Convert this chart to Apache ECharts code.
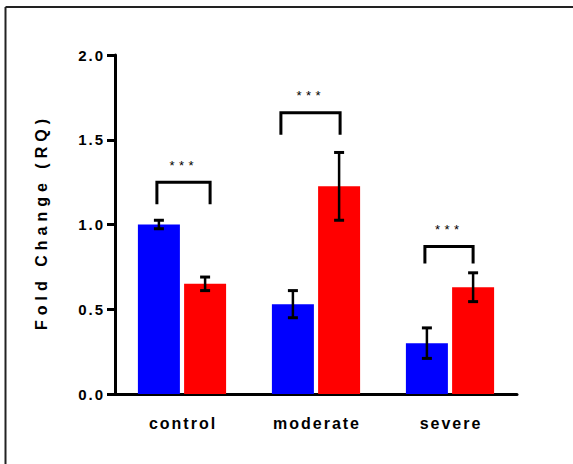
<!DOCTYPE html>
<html><head><meta charset="utf-8">
<script src="https://cdn.jsdelivr.net/npm/echarts@6/dist/echarts.min.js"></script>
<style>html,body{margin:0;padding:0;background:#fff}#chart{width:573px;height:464px}</style>
</head><body><div id="chart"></div>
<script>
// ---- data ----
const categories = ['control', 'moderate', 'severe'];
const blueValues = [1.00, 0.53, 0.30];
const blueErrors = [0.025, 0.08, 0.09];
const redValues = [0.65, 1.225, 0.63];
const redErrors = [0.04, 0.20, 0.085];
const yTickLabels = ['0.0', '0.5', '1.0', '1.5', '2.0'];
const bracketTop = [1.25, 1.66, 0.87];
const bracketLegBottom = [1.12, 1.53, 0.77];
const bracketLabels = ['***', '***', '***'];

// ---- style constants ----
const FONT = '"Liberation Sans", Arial, sans-serif';
const BAR_W = 42;
const BAR_GAP_PX = 4.2;
const BAR_OFFSET = (BAR_W + BAR_GAP_PX) / 2;
const bracketPad = [[2, 5], [12, 1], [2, 0]];

const chart = echarts.init(document.getElementById('chart'), null, {renderer: 'svg'});

function errorSeries(values, errors, sign) {
  return {
    type: 'custom',
    z: 5,
    data: values.map((v, i) => [i, v - errors[i], v + errors[i]]),
    renderItem: function (params, api) {
      const i = api.value(0);
      const lo = api.coord([i, api.value(1)]);
      const hi = api.coord([i, api.value(2)]);
      const x = lo[0] + sign * BAR_OFFSET;
      const cap = 5;
      return {
        type: 'group',
        children: [
          {type: 'line', shape: {x1: x, y1: lo[1], x2: x, y2: hi[1]}, style: {stroke: '#000', lineWidth: 2.5}},
          {type: 'line', shape: {x1: x - cap, y1: lo[1], x2: x + cap, y2: lo[1]}, style: {stroke: '#000', lineWidth: 3}},
          {type: 'line', shape: {x1: x - cap, y1: hi[1], x2: x + cap, y2: hi[1]}, style: {stroke: '#000', lineWidth: 3}}
        ]
      };
    }
  };
}

const option = {
  animation: false,
  backgroundColor: '#fff',
  grid: {left: 115, right: 56, top: 55, bottom: 70},
  graphic: [
    {type: 'line', shape: {x1: 5.5, y1: 7, x2: 573, y2: 7}, style: {stroke: '#222', lineWidth: 2}},
    {type: 'line', shape: {x1: 5.5, y1: 7, x2: 5.5, y2: 464}, style: {stroke: '#222', lineWidth: 2}}
  ],
  xAxis: {
    type: 'category',
    data: categories,
    axisLine: {lineStyle: {color: '#000', width: 3}},
    axisTick: {alignWithLabel: true, length: 8, lineStyle: {color: '#000', width: 2}},
    axisLabel: {color: '#000', fontFamily: FONT, fontWeight: 'bold', fontSize: 16, margin: 21}
  },
  yAxis: {
    type: 'value',
    min: 0, max: 2, interval: 0.5,
    name: 'Fold Change (RQ)',
    nameLocation: 'middle',
    nameGap: 66,
    nameTextStyle: {color: '#000', fontFamily: FONT, fontWeight: 'bold', fontSize: 16},
    axisLine: {show: true, lineStyle: {color: '#000', width: 3}},
    axisTick: {show: true, length: 8, lineStyle: {color: '#000', width: 3}},
    splitLine: {show: false},
    axisLabel: {
      color: '#000', fontFamily: FONT, fontWeight: 'bold', fontSize: 15, margin: 12,
      formatter: function (v) { return yTickLabels[Math.round(v / 0.5)]; }
    }
  },
  series: [
    {type: 'bar', data: blueValues, barWidth: BAR_W, barGap: '10%', itemStyle: {color: '#0000FF'}},
    {type: 'bar', data: redValues, barWidth: BAR_W, barGap: '10%', itemStyle: {color: '#FF0000'}},
    errorSeries(blueValues, blueErrors, -1),
    errorSeries(redValues, redErrors, 1),
    {
      type: 'custom',
      z: 6,
      data: bracketTop.map((v, i) => [i, v, bracketLegBottom[i]]),
      renderItem: function (params, api) {
        const i = api.value(0);
        const top = api.coord([i, api.value(1)]);
        const leg = api.coord([i, api.value(2)]);
        const xl = top[0] - BAR_OFFSET - bracketPad[i][0];
        const xr = top[0] + BAR_OFFSET + bracketPad[i][1];
        return {
          type: 'group',
          children: [
            {type: 'polyline', shape: {points: [[xl, leg[1]], [xl, top[1]], [xr, top[1]], [xr, leg[1]]]},
             style: {stroke: '#000', lineWidth: 3, fill: null}},
            {type: 'text', style: {text: bracketLabels[i], x: (xl + xr) / 2 - 2, y: top[1] - 17,
              align: 'center', verticalAlign: 'middle', font: '13px ' + FONT, fill: '#000'}}
          ]
        };
      }
    }
  ]
};
chart.setOption(option);

function spaceText() {
  document.querySelectorAll('#chart svg text').forEach(function (t) {
    const s = t.textContent;
    let sp = 0;
    if (s === '***') sp = 4.5;
    else if (s.indexOf('Fold') === 0) sp = 5;
    else if (categories.indexOf(s) >= 0) sp = 2;
    else if (/^[0-9.]+$/.test(s)) sp = 2;
    if (!sp) return;
    t.style.letterSpacing = sp + 'px';
    const anchor = t.getAttribute('text-anchor');
    if (anchor === 'middle') t.setAttribute('dx', sp / 2);
    else if (anchor === 'end') t.setAttribute('dx', sp);
  });
}
spaceText();
chart.on('finished', spaceText);
setTimeout(spaceText, 50);
</script>
</body></html>
